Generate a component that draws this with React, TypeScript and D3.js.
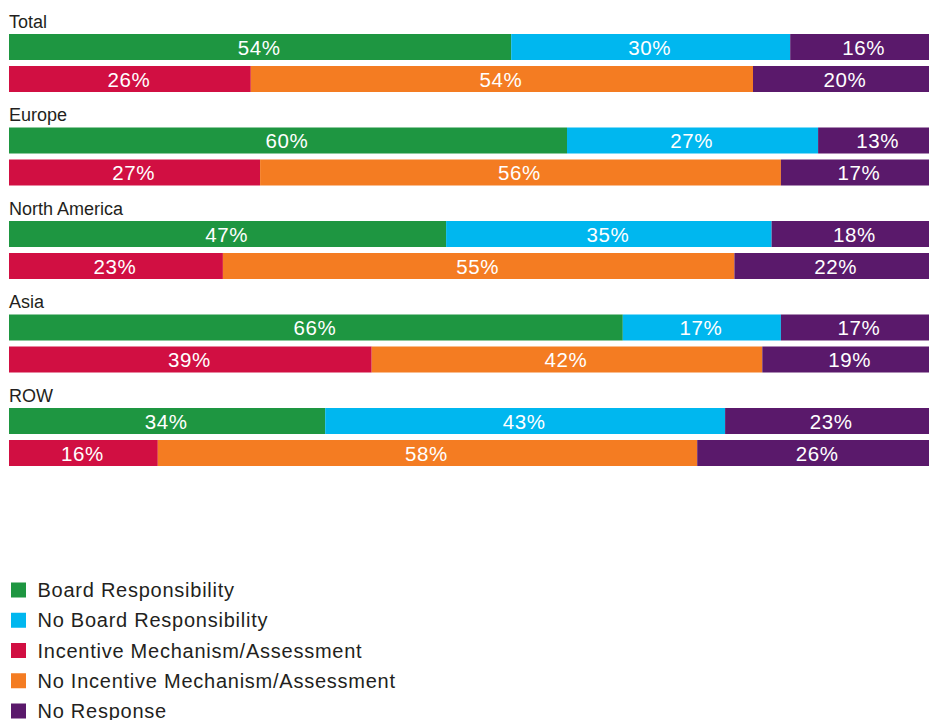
import React from "react";
import * as d3 from "d3";

const regions = ["Total", "Europe", "North America", "Asia", "ROW"];
const boardResponsibility = [54, 60, 47, 66, 34];
const noBoardResponsibility = [30, 27, 35, 17, 43];
const noResponseBoard = [16, 13, 18, 17, 23];
const incentive = [26, 27, 23, 39, 16];
const noIncentive = [54, 56, 55, 42, 58];
const noResponseIncentive = [20, 17, 22, 19, 26];

const legendLabels = [
  "Board Responsibility",
  "No Board Responsibility",
  "Incentive Mechanism/Assessment",
  "No Incentive Mechanism/Assessment",
  "No Response",
];

const COLORS = {
  green: "#1e9641",
  cyan: "#00b7ef",
  red: "#d10f42",
  orange: "#f47c22",
  purple: "#5a196b",
};
const legendColors = [COLORS.green, COLORS.cyan, COLORS.red, COLORS.orange, COLORS.purple];

const W = 929;
const H = 720;
const FONT = "'Liberation Sans', Arial, Helvetica, sans-serif";

export default function App() {
  const x = d3.scaleLinear().domain([0, 100]).range([9, 939]);
  const y = d3
    .scaleBand<string>()
    .domain(regions)
    .range([34, 34 + regions.length * 93.5])
    .paddingInner(0)
    .paddingOuter(0);
  const barH = 26;
  const rowGap = 32;

  const rows = regions.map((r, i) => {
    const top = [
      { v: boardResponsibility[i], c: COLORS.green },
      { v: noBoardResponsibility[i], c: COLORS.cyan },
      { v: noResponseBoard[i], c: COLORS.purple },
    ];
    const bottom = [
      { v: incentive[i], c: COLORS.red },
      { v: noIncentive[i], c: COLORS.orange },
      { v: noResponseIncentive[i], c: COLORS.purple },
    ];
    return { r, top, bottom };
  });

  const renderBar = (segs: { v: number; c: string }[], y0: number, key: string) => {
    let acc = 0;
    return segs.map((s, j) => {
      const x0 = x(acc);
      acc += s.v;
      const x1 = x(acc);
      return (
        <g key={key + j}>
          <rect x={x0} y={y0} width={x1 - x0} height={barH} fill={s.c} />
          <text
            x={(x0 + x1) / 2 - 1}
            y={y0 + barH / 2 + 7.5}
            textAnchor="middle"
            fill="#ffffff"
            fontSize={20.5}
            letterSpacing={0.6}
            fontFamily={FONT}
          >
            {s.v}%
          </text>
        </g>
      );
    });
  };

  const legendY = d3.scaleLinear().domain([0, 4]).range([590, 711]);

  return (
    <div style={{ position: "fixed", left: 0, top: 0, width: W, height: H, overflow: "hidden", background: "#fff" }}>
      <svg width={W} height={H} style={{ display: "block" }}>
        <rect x={0} y={0} width={W} height={H} fill="#ffffff" />
        {rows.map((row, i) => {
          const t = y(row.r) as number;
          return (
            <g key={row.r}>
              <text x={9} y={t - 6.5} fill="#231f20" fontSize={18} fontFamily={FONT}>
                {row.r}
              </text>
              {renderBar(row.top, t, "t" + i)}
              {renderBar(row.bottom, t + rowGap, "b" + i)}
            </g>
          );
        })}
        {legendLabels.map((l, i) => {
          const cy = legendY(i);
          return (
            <g key={l}>
              <rect x={11} y={cy - 7.5} width={15} height={15} fill={legendColors[i]} />
              <text
                x={37.5}
                y={cy + 7.2}
                fill="#231f20"
                fontSize={20}
                letterSpacing={0.75}
                fontFamily={FONT}
              >
                {l}
              </text>
            </g>
          );
        })}
      </svg>
    </div>
  );
}
